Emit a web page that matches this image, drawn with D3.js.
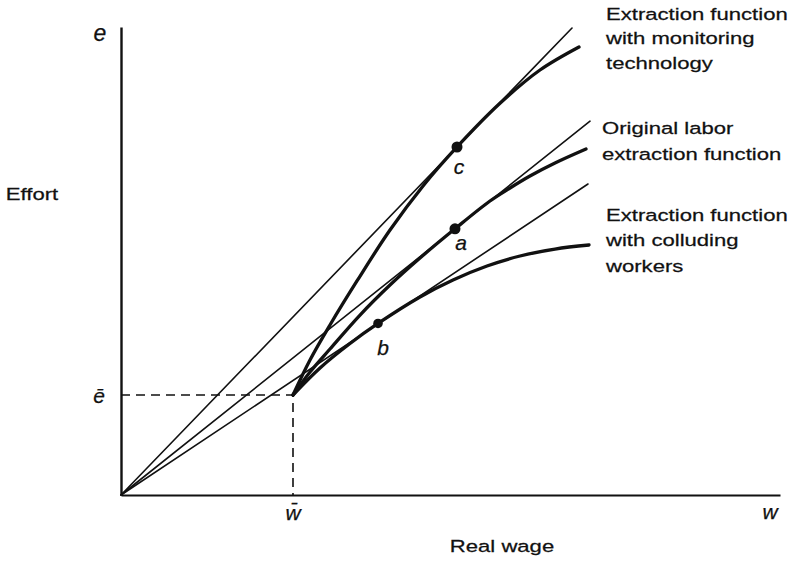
<!DOCTYPE html>
<html>
<head>
<meta charset="utf-8">
<script src="https://cdn.jsdelivr.net/npm/d3@7"></script>
<style>
  html, body { margin: 0; padding: 0; background: #fff; }
  svg { display: block; }
  text { font-family: "Liberation Sans", Arial, Helvetica, sans-serif; fill: #111; stroke: #111; stroke-width: 0.25px; }
</style>
</head>
<body>
<svg id="chart" width="797" height="563"></svg>
<script>
// ---------- data (w = real wage, e = effort, arbitrary units 0..100) ----------
const wBar = 26.1;
const eBar = 21.37;

// straight rays from the origin (end points)
const rayMonitoring = [[0, 0], [68.44, 99.79]];
const rayOriginal   = [[0, 0], [71.17, 79.87]];
const rayColluding  = [[0, 0], [70.86, 66.45]];

// extraction functions (thick curves)
const curveMonitoring = [
  [26.10, 21.37], [28.68, 28.85], [31.71, 36.32], [35.81, 45.73], [40.82, 56.62],
  [45.83, 66.03], [50.99, 74.36], [57.51, 83.69], [63.58, 90.81], [69.50, 95.73]
];
const curveOriginal = [
  [26.10, 21.37], [28.68, 26.28], [31.71, 31.20], [36.27, 38.46], [40.82, 44.87],
  [45.37, 50.64], [50.68, 56.88], [55.99, 62.82], [59.03, 65.60], [62.06, 68.16],
  [65.86, 70.94], [70.56, 73.93]
];
const curveColluding = [
  [26.10, 21.37], [30.20, 27.14], [34.75, 32.37], [39.00, 36.65], [45.37, 42.31],
  [50.38, 45.94], [55.54, 48.93], [60.55, 51.07], [65.86, 52.56], [71.02, 53.42]
];

// tangency points
const pointLabels = ["c", "a", "b"];
const pointW = [50.99, 50.68, 39.00];
const pointE = [74.36, 56.88, 36.65];
const pointR = [5.5, 5.5, 4.8];

// labels at the right
const labelMonitoring = ["Extraction function", "with monitoring", "technology"];
const labelOriginal   = ["Original labor", "extraction function"];
const labelColluding  = ["Extraction function", "with colluding", "workers"];

// ---------- drawing ----------
const svg = d3.select("#chart");
const x = d3.scaleLinear().domain([0, 100]).range([121, 780]);
const y = d3.scaleLinear().domain([0, 100]).range([495, 27]);

const line = d3.line().x(d => x(d[0])).y(d => y(d[1]));
const smooth = d3.line().x(d => x(d[0])).y(d => y(d[1])).curve(d3.curveCatmullRom.alpha(0.5));

// axes
svg.append("g").attr("transform", `translate(0,${y(0)})`)
  .call(d3.axisBottom(x).tickValues([]).tickSizeOuter(0))
  .call(g => g.select(".domain").attr("stroke", "#111").attr("stroke-width", 2.2));
svg.append("g").attr("transform", `translate(${x(0)},0)`)
  .call(d3.axisLeft(y).tickValues([]).tickSizeOuter(0))
  .call(g => g.select(".domain").attr("stroke", "#111").attr("stroke-width", 2.4));

// dashed guides
svg.append("path")
  .attr("d", line([[0, eBar], [wBar, eBar], [wBar, 0]]))
  .attr("fill", "none").attr("stroke", "#111").attr("stroke-width", 1.6)
  .attr("stroke-dasharray", "9,6");

// rays
[rayMonitoring, rayOriginal, rayColluding].forEach(r => {
  svg.append("path").attr("d", line(r))
    .attr("fill", "none").attr("stroke", "#111").attr("stroke-width", 1.6)
    .attr("stroke-linecap", "round");
});

// curves
[curveMonitoring, curveOriginal, curveColluding].forEach(c => {
  svg.append("path").attr("d", smooth(c))
    .attr("fill", "none").attr("stroke", "#111").attr("stroke-width", 3.3)
    .attr("stroke-linecap", "round");
});

// tangency points
pointLabels.forEach((lab, i) => {
  svg.append("circle").attr("cx", x(pointW[i])).attr("cy", y(pointE[i]))
    .attr("r", pointR[i]).attr("fill", "#111");
});
const labelOffsets = [[2, 27], [6, 21], [5, 32]];
pointLabels.forEach((lab, i) => {
  svg.append("text")
    .attr("x", x(pointW[i]) + labelOffsets[i][0])
    .attr("y", y(pointE[i]) + labelOffsets[i][1])
    .attr("text-anchor", "middle")
    .style("font-style", "italic").style("font-size", "21px")
    .text(lab);
});

// text helper (horizontally stretched, like the reference typeface)
function stretched(txt, tx, ty, size, anchor) {
  svg.append("text")
    .attr("transform", `translate(${tx},${ty}) scale(1.3,1)`)
    .attr("text-anchor", anchor || "start")
    .style("font-size", size + "px")
    .text(txt);
}
// axis letters
svg.append("text").attr("x", 100).attr("y", 41).attr("text-anchor", "middle")
  .style("font-style", "italic").style("font-size", "23px").text("e");
svg.append("text").attr("x", 99).attr("y", 403).attr("text-anchor", "middle")
  .style("font-style", "italic").style("font-size", "21px").text("\u0113");
svg.append("text").attr("x", x(wBar)).attr("y", 520).attr("text-anchor", "middle")
  .style("font-style", "italic").style("font-size", "21px").text("w\u0304");
svg.append("text").attr("x", 770).attr("y", 519).attr("text-anchor", "middle")
  .style("font-style", "italic").style("font-size", "21px").text("w");

stretched("Effort", 32, 200, 17, "middle");
stretched("Real wage", 502, 552, 17, "middle");

labelMonitoring.forEach((t, i) => stretched(t, 606, 19.5 + i * 24.5, 17));
labelOriginal.forEach((t, i) => stretched(t, 602, 134 + i * 26, 17));
labelColluding.forEach((t, i) => stretched(t, 606, 221 + i * 25.3, 17));
</script>
</body>
</html>
